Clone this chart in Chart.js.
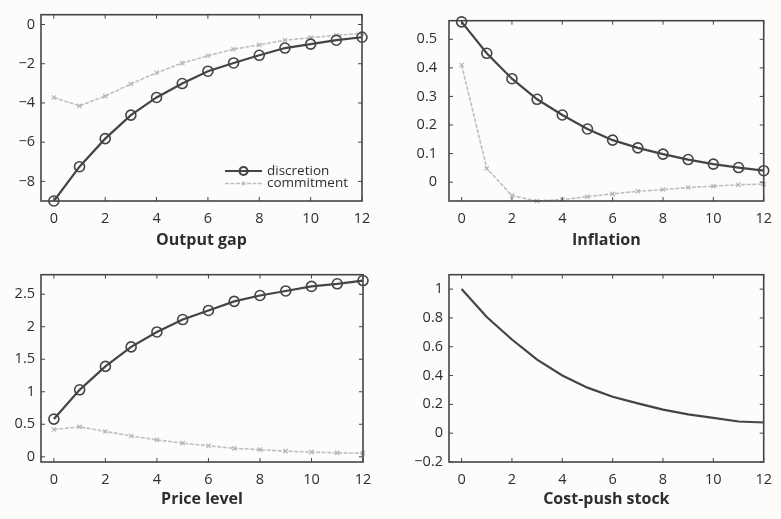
<!DOCTYPE html>
<html>
<head>
<meta charset="utf-8">
<script src="https://cdn.jsdelivr.net/npm/chart.js@4.4.1/dist/chart.umd.min.js"></script>
<style>
  body { margin: 0; background: #fcfcfa; }
  #wrap { position: relative; width: 781px; height: 519px; }
  canvas { position: absolute; }
</style>
</head>
<body>
<div id="wrap">
  <canvas id="gap" width="390" height="260" style="left:0;top:0"></canvas>
  <canvas id="infl" width="391" height="260" style="left:390px;top:0"></canvas>
  <canvas id="price" width="390" height="259" style="left:0;top:260px"></canvas>
  <canvas id="shock" width="391" height="259" style="left:390px;top:260px"></canvas>
</div>
<script>
// Periods after the shock
var horizon = [0, 1, 2, 3, 4, 5, 6, 7, 8, 9, 10, 11, 12];
var xTicks = [0, 2, 4, 6, 8, 10, 12];

// Output gap
var gapDiscretion = [-9.0, -7.25, -5.82, -4.62, -3.72, -3.01, -2.38, -1.96, -1.57, -1.2, -1.0, -0.8, -0.65];
var gapCommitment = [-3.72, -4.15, -3.65, -3.03, -2.46, -1.97, -1.59, -1.26, -1.04, -0.8, -0.67, -0.55, -0.45];
var gapTicks = [-8, -6, -4, -2, 0];

// Inflation
var inflDiscretion = [0.561, 0.451, 0.362, 0.29, 0.235, 0.186, 0.147, 0.12, 0.098, 0.079, 0.063, 0.051, 0.04];
var inflCommitment = [0.41, 0.048, -0.047, -0.066, -0.061, -0.051, -0.041, -0.032, -0.026, -0.019, -0.014, -0.009, -0.007];
var inflTicks = [0, 0.1, 0.2, 0.3, 0.4, 0.5];

// Price level
var priceDiscretion = [0.58, 1.03, 1.39, 1.69, 1.92, 2.11, 2.25, 2.39, 2.48, 2.55, 2.62, 2.66, 2.71];
var priceCommitment = [0.42, 0.46, 0.39, 0.32, 0.26, 0.21, 0.17, 0.13, 0.11, 0.087, 0.072, 0.061, 0.056];
var priceTicks = [0, 0.5, 1, 1.5, 2, 2.5];

// Cost-push shock
var shockPath = [1.0, 0.806, 0.65, 0.51, 0.4, 0.316, 0.253, 0.207, 0.164, 0.131, 0.106, 0.081, 0.074];
var shockTicks = [-0.2, 0, 0.2, 0.4, 0.6, 0.8, 1];

var FONT = "'Open Sans', sans-serif";
var TEXT = "#2e2e2e";

function points(values) {
    return horizon.map(function (t, i) { return { x: t, y: values[i] }; });
}

function fmt(v) {
    return String(v).replace("-", "\u2212");
}

function discretionSet(values) {
    return {
        label: "discretion", data: points(values), clip: false,
        borderColor: "#444", borderWidth: 2.2,
        pointStyle: "circle", pointRadius: 5, pointBorderWidth: 1.6,
        pointBorderColor: "#444", pointBackgroundColor: "rgba(0,0,0,0)"
    };
}

function commitmentSet(values) {
    return {
        label: "commitment", data: points(values), clip: false,
        borderColor: "#bfbfbf", borderWidth: 1.6, borderDash: [4, 1.5],
        pointStyle: "crossRot", pointRadius: 3, pointBorderWidth: 1.2,
        pointBorderColor: "#b5b5b5"
    };
}

// MATLAB style box with ticks pointing inward
var frame = {
    id: "frame",
    afterDatasetsDraw: function (chart) {
        var ctx = chart.ctx, a = chart.chartArea;
        var xs = chart.scales.x, ys = chart.scales.y;
        ctx.save();
        ctx.strokeStyle = "#444";
        ctx.lineWidth = 1.6;
        ctx.strokeRect(a.left, a.top, a.right - a.left, a.bottom - a.top);
        ctx.lineWidth = 1;
        ctx.beginPath();
        xs.ticks.forEach(function (t) {
            var px = xs.getPixelForValue(t.value);
            ctx.moveTo(px, a.bottom); ctx.lineTo(px, a.bottom - 4);
            ctx.moveTo(px, a.top); ctx.lineTo(px, a.top + 4);
        });
        ys.ticks.forEach(function (t) {
            var py = ys.getPixelForValue(t.value);
            ctx.moveTo(a.left, py); ctx.lineTo(a.left + 4, py);
            ctx.moveTo(a.right, py); ctx.lineTo(a.right - 4, py);
        });
        ctx.stroke();
        ctx.restore();
    }
};

// Legend drawn inside the plot area
var insideLegend = {
    id: "insideLegend",
    afterDraw: function (chart, args, opts) {
        if (!opts.show) return;
        var ctx = chart.ctx;
        ctx.save();
        ctx.font = "13.5px " + FONT;
        ctx.textBaseline = "middle";
        chart.data.datasets.forEach(function (ds, i) {
            var y = opts.y + i * 12.5;
            var x0 = opts.x, x1 = opts.x + 37, xm = (x0 + x1) / 2;
            ctx.strokeStyle = ds.borderColor;
            ctx.lineWidth = ds.borderWidth;
            ctx.setLineDash(ds.borderDash || []);
            ctx.beginPath(); ctx.moveTo(x0, y); ctx.lineTo(x1, y); ctx.stroke();
            ctx.setLineDash([]);
            Chart.helpers.drawPoint(ctx, {
                pointStyle: ds.pointStyle, radius: ds.pointRadius - 1,
                borderWidth: ds.pointBorderWidth, rotation: 0
            }, xm, y);
            ctx.fillStyle = TEXT;
            ctx.fillText(ds.label, x1 + 5, y);
        });
        ctx.restore();
    }
};

function create_panel(canvasId, title, datasets, yMin, yMax, yTicks, box, showLegend) {
    new Chart(document.getElementById(canvasId), {
        type: "line",
        data: { datasets: datasets },
        options: {
            responsive: false,
            animation: false,
            devicePixelRatio: 1,
            layout: { padding: { top: box.top, right: box.right, left: 0, bottom: 0 } },
            plugins: {
                legend: { display: false },
                tooltip: { enabled: false },
                insideLegend: { show: showLegend, x: 225, y: 171 }
            },
            scales: {
                x: {
                    type: "linear", min: -0.5, max: 12,
                    afterBuildTicks: function (s) { s.ticks = xTicks.map(function (v) { return { value: v }; }); },
                    afterFit: function (s) { s.height = box.xh; },
                    grid: { display: false, drawTicks: false },
                    border: { display: false },
                    ticks: { padding: 9, color: TEXT, font: { family: FONT, size: 14.5 }, maxRotation: 0, callback: fmt },
                    title: {
                        display: true, text: title, color: "#2e2e2e",
                        font: { family: FONT, size: 16, weight: "bold" },
                        padding: { top: 0, bottom: 10 }
                    }
                },
                y: {
                    min: yMin, max: yMax,
                    afterBuildTicks: function (s) { s.ticks = yTicks.map(function (v) { return { value: v }; }); },
                    afterFit: function (s) { s.width = box.left; },
                    grid: { display: false, drawTicks: false },
                    border: { display: false },
                    ticks: { padding: box.pad, color: TEXT, font: { family: FONT, size: 14.5 }, callback: fmt }
                }
            }
        },
        plugins: [frame, insideLegend]
    });
}

create_panel("gap", "Output gap",
    [discretionSet(gapDiscretion), commitmentSet(gapCommitment)],
    -9, 0.5, gapTicks, { top: 11, right: 28, left: 41, xh: 59, pad: 6 }, true);

create_panel("infl", "Inflation",
    [discretionSet(inflDiscretion), commitmentSet(inflCommitment)],
    -0.066, 0.565, inflTicks, { top: 11, right: 11, left: 59, xh: 59, pad: 12 }, false);

create_panel("price", "Price level",
    [discretionSet(priceDiscretion), commitmentSet(priceCommitment)],
    -0.08, 2.8, priceTicks, { top: 14, right: 27, left: 41, xh: 57, pad: 6 }, false);

create_panel("shock", "Cost-push stock",
    [{ label: "shock", data: points(shockPath), clip: false, borderColor: "#444", borderWidth: 2.2, pointRadius: 0 }],
    -0.2, 1.1, shockTicks, { top: 14, right: 11, left: 59, xh: 57, pad: 6 }, false);
</script>
</body>
</html>
